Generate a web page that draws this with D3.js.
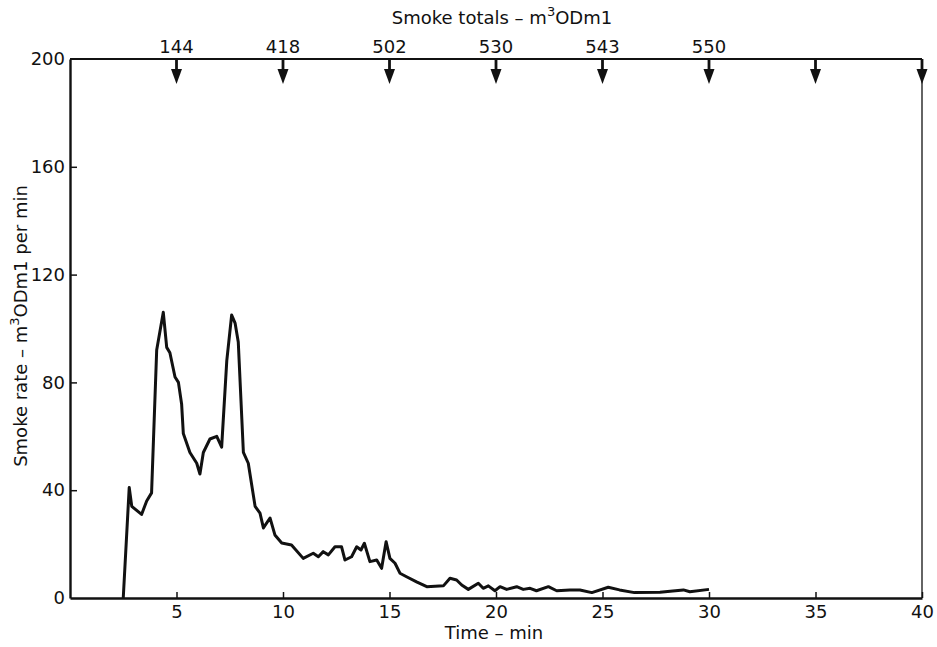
<!DOCTYPE html>
<html>
<head>
<meta charset="utf-8">
<script src="https://cdn.jsdelivr.net/npm/d3@7"></script>
<style>
  body { margin: 0; background: #fff; }
  svg text { font-family: "DejaVu Sans", "Liberation Sans", Arial, sans-serif; fill: #111; }
</style>
</head>
<body>
<svg id="chart" width="937" height="647"></svg>
<script>
// smoke rate curve (m3ODm1 per min) vs time (min)
var timeMin = [2.5, 2.78, 2.9, 3.36, 3.6, 3.83, 4.07, 4.38, 4.54, 4.69, 4.93, 5.09, 5.24, 5.32, 5.63, 5.95, 6.1, 6.26, 6.57, 6.89,
  7.12, 7.36, 7.59, 7.75, 7.9, 8.14, 8.37, 8.69, 8.92, 9.08, 9.39, 9.62, 9.94, 10.4, 10.95, 11.42, 11.66, 11.89, 12.13, 12.44,
  12.75, 12.91, 13.22, 13.46, 13.66, 13.82, 14.08, 14.4, 14.63, 14.84, 15.02, 15.26, 15.49, 15.8, 16.27, 16.75, 17.53, 17.84, 18.15, 18.39,
  18.7, 19.17, 19.4, 19.64, 19.95, 20.19, 20.5, 20.97, 21.28, 21.6, 21.9, 22.46, 22.85, 23.47, 23.94, 24.5, 25.27, 25.8, 26.5, 27.7,
  28.3, 28.8, 29.1, 30.0];
var smokeRate = [0, 41, 34, 31, 36, 39, 92, 106, 93, 91, 82, 80, 72, 61, 54, 50, 46, 54, 59, 60,
  56, 88, 105, 102, 95, 54, 50, 34, 31.5, 26, 29.7, 23.4, 20.4, 19.7, 14.7, 16.6, 15.3, 17.2, 16, 19,
  19, 14.1, 15.3, 19, 17.8, 20.3, 13.5, 14.1, 11, 20.9, 14.7, 12.9, 9.2, 7.9, 6, 4.2, 4.5, 7.3, 6.7, 4.8,
  3.2, 5.5, 3.6, 4.5, 2.7, 4.2, 3.2, 4.2, 3.2, 3.6, 2.7, 4.2, 2.7, 3.0, 3.0, 2.0, 4.0, 3.0, 2.0, 2.1,
  2.6, 3.0, 2.3, 3.2];
// cumulative smoke totals marked on the top axis
var totalTimes = [5, 10, 15, 20, 25, 30, 35, 40];
var totalLabels = ['144', '418', '502', '530', '543', '550', '', ''];
var xTicks = [5, 10, 15, 20, 25, 30, 35, 40];
var yTicks = [0, 40, 80, 120, 160, 200];

var mLeft = 70, mRight = 922, mTop = 59, mBottom = 598;
var svg = d3.select('#chart');

var x = d3.scaleLinear().domain([0, 40]).range([mLeft, mRight]);
var y = d3.scaleLinear().domain([0, 200]).range([mBottom, mTop]);

//坐标轴
var yAxis = svg.append('g')
    .attr('transform', 'translate(' + mLeft + ',0)')
    .call(d3.axisLeft(y).tickValues(yTicks).tickSizeInner(-7).tickSizeOuter(0).tickPadding(5));
yAxis.selectAll('.tick line').filter(function (d) { return d === 0 || d === 200; }).remove();

var xAxis = svg.append('g')
    .attr('transform', 'translate(0,' + mBottom + ')')
    .call(d3.axisBottom(x).tickValues(xTicks).tickSizeInner(-6).tickSizeOuter(0).tickPadding(8));
xAxis.selectAll('.tick text').attr('dy', '0.71em').attr('y', 7);

svg.selectAll('.domain').attr('stroke', '#111').attr('stroke-width', 2.4);
svg.selectAll('.tick line').attr('stroke', '#111').attr('stroke-width', 1.5);
svg.selectAll('.tick text').style('font-size', '18px');

// top and right frame
svg.append('line').attr('x1', mLeft).attr('x2', mRight).attr('y1', mTop).attr('y2', mTop)
    .attr('stroke', '#111').attr('stroke-width', 2.2);
svg.append('line').attr('x1', mRight).attr('x2', mRight).attr('y1', mTop).attr('y2', mBottom)
    .attr('stroke', '#111').attr('stroke-width', 1.3);

// totals arrows
var arrows = svg.append('g').selectAll('g').data(totalTimes).enter().append('g')
    .attr('transform', function (d) { return 'translate(' + x(d) + ',' + mTop + ')'; });
arrows.append('line').attr('y1', 0).attr('y2', 11).attr('stroke', '#111').attr('stroke-width', 2.8);
arrows.append('path').attr('d', 'M-5.5,10L5.5,10L0,25Z').attr('fill', '#111');
arrows.append('text')
    .attr('y', -6)
    .attr('text-anchor', 'middle')
    .style('font-size', '18px')
    .text(function (d, i) { return totalLabels[i]; });

// curve
var line = d3.line()
    .x(function (d, i) { return x(timeMin[i]); })
    .y(function (d) { return y(d); });
svg.append('path')
    .datum(smokeRate)
    .attr('d', line)
    .attr('fill', 'none')
    .attr('stroke', '#111')
    .attr('stroke-width', 3)
    .attr('stroke-linejoin', 'round');

// titles
var topTitle = svg.append('text').attr('x', 502).attr('y', 24).attr('text-anchor', 'middle').style('font-size', '18px');
topTitle.append('tspan').text('Smoke totals \u2013 m');
topTitle.append('tspan').attr('dy', -8).style('font-size', '13px').text('3');
topTitle.append('tspan').attr('dy', 8).text('ODm1');

var yTitle = svg.append('text')
    .attr('transform', 'translate(27,326) rotate(-90)')
    .attr('text-anchor', 'middle')
    .style('font-size', '18px');
yTitle.append('tspan').text('Smoke rate \u2013 m');
yTitle.append('tspan').attr('dy', -8).style('font-size', '13px').text('3');
yTitle.append('tspan').attr('dy', 8).text('ODm1 per min');

svg.append('text').attr('x', 494).attr('y', 639).attr('text-anchor', 'middle')
    .style('font-size', '18px').text('Time \u2013 min');
</script>
</body>
</html>
